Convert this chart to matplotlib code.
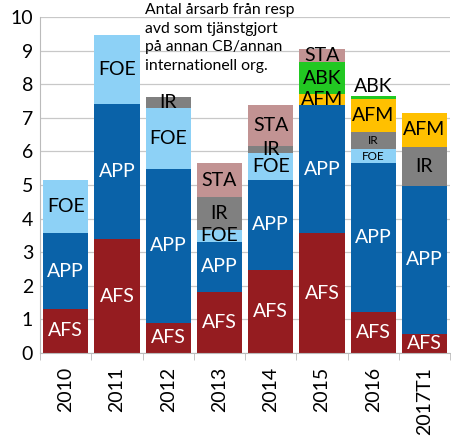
import numpy as np
from matplotlib import pyplot as plt

plt.rcParams['font.family'] = ['Lato', 'DejaVu Sans']

years = ['2010', '2011', '2012', '2013', '2014', '2015', '2016', '2017T1']
afs = [1.32, 3.39, 0.90, 1.82, 2.47, 3.56, 1.23, 0.57]
app = [2.24, 4.01, 4.59, 1.49, 2.68, 3.82, 4.42, 4.41]
foe = [1.59, 2.07, 1.79, 0.35, 0.81, 0.00, 0.41, 0.00]
ir = [0.00, 0.00, 0.33, 0.97, 0.20, 0.00, 0.51, 1.16]
afm = [0.00, 0.00, 0.00, 0.00, 0.00, 0.33, 1.00, 1.01]
abk = [0.00, 0.00, 0.00, 0.00, 0.00, 0.94, 0.08, 0.00]
sta = [0.00, 0.00, 0.00, 1.02, 1.22, 0.40, 0.00, 0.00]

series = [('AFS', afs, '#951C20', 'white'),
          ('APP', app, '#0A62A8', 'white'),
          ('FOE', foe, '#8DD1F6', 'black'),
          ('IR', ir, '#808080', 'black'),
          ('AFM', afm, '#FFC000', 'black'),
          ('ABK', abk, '#22C822', 'black'),
          ('STA', sta, '#C29393', 'black')]

note = 'Antal årsarb från resp\navd som tjänstgjort\npå annan CB/annan\ninternationell org.'

figure = plt.figure(figsize=(4.51, 4.42), dpi=100)
axis = figure.add_axes([0.089, 0.2014, 0.909, 0.76])

x = np.arange(len(years))
bottom = np.zeros(len(years))
for name, vals, color, tcolor in series:
    vals = np.array(vals)
    axis.bar(x, vals, bottom=bottom, width=0.88, color=color, zorder=2)
    for i, v in enumerate(vals):
        if v <= 0:
            continue
        y = bottom[i] + v / 2
        size = 14
        if years[i] == '2016' and name in ('IR', 'FOE'):
            size = 8.5
        if years[i] == '2016' and name == 'ABK':
            y = bottom[i] + v + 0.28
        axis.text(x[i], y, name, ha='center', va='center', color=tcolor,
                  fontsize=size, zorder=3)
    bottom += vals

axis.set_xlim(-0.5, len(years) - 0.5)
axis.set_ylim(0, 10)
axis.set_yticks(range(0, 11))
axis.tick_params(axis='y', length=0, labelsize=14, pad=5)
axis.set_xticks(x)
axis.set_xticklabels(years, rotation=90, fontsize=14)
axis.tick_params(axis='x', which='major', length=0, pad=10)
axis.set_xticks(np.arange(len(years) + 1) - 0.5, minor=True)
axis.tick_params(axis='x', which='minor', length=5, color='#BBBBBB')
axis.grid(axis='y', color='#C8C8C8', linewidth=0.9, zorder=0)
for side in ('top', 'right'):
    axis.spines[side].set_visible(False)
for side in ('left', 'bottom'):
    axis.spines[side].set_color('#BBBBBB')

figure.text(0.322, 0.993, note, ha='left', va='top', fontsize=11.3, linespacing=1.42)

figure.savefig('out.png', dpi=100)
